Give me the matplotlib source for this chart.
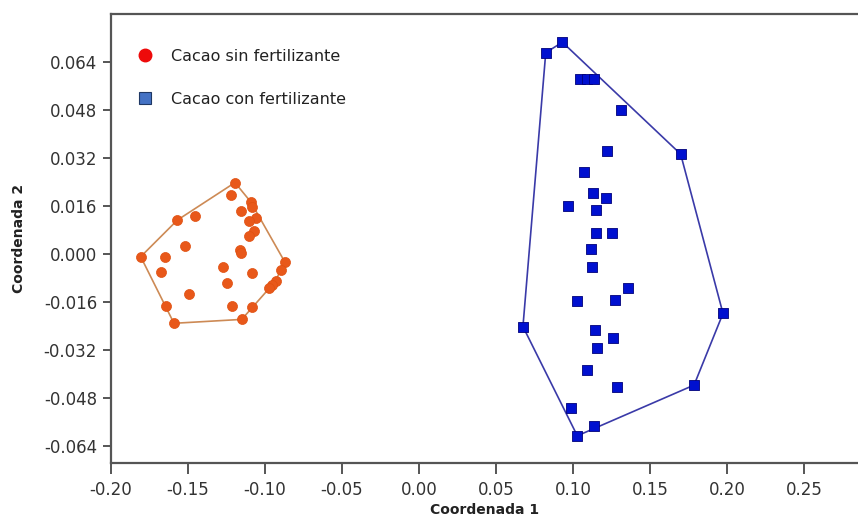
import numpy as np
import matplotlib
matplotlib.use('Agg')
import matplotlib.pyplot as plt
from matplotlib.lines import Line2D

plt.rcParams['axes.unicode_minus'] = False

# Cacao sin fertilizante (coordenada 1, coordenada 2)
sin_x = [-0.1195, -0.1219, -0.1093, -0.1082, -0.1154, -0.1455, -0.1569, -0.1060,
         -0.1104, -0.1071, -0.1104, -0.1521, -0.1164, -0.1158, -0.1807, -0.1649,
         -0.0872, -0.0898, -0.1273, -0.1677, -0.1082, -0.0931, -0.0953, -0.0974,
         -0.1245, -0.1494, -0.1641, -0.1212, -0.1082, -0.1591, -0.1151]
sin_y = [0.0238, 0.0197, 0.0174, 0.0158, 0.0143, 0.0127, 0.0113, 0.0119,
         0.0110, 0.0078, 0.0060, 0.0027, 0.0013, 0.0002, -0.0009, -0.0011,
         -0.0026, -0.0053, -0.0044, -0.0061, -0.0064, -0.0089, -0.0103, -0.0114,
         -0.0096, -0.0134, -0.0173, -0.0173, -0.0176, -0.0231, -0.0218]

# Cacao con fertilizante
con_x = [0.0931, 0.0823, 0.1045, 0.1093, 0.1136, 0.1314, 0.1699, 0.1219,
         0.1071, 0.1132, 0.1212, 0.0970, 0.1147, 0.1147, 0.1255, 0.1115,
         0.1121, 0.1359, 0.1028, 0.1273, 0.1974, 0.0675, 0.1141, 0.1262,
         0.1158, 0.1093, 0.1786, 0.1288, 0.0989, 0.1136, 0.1028]
con_y = [0.0706, 0.0671, 0.0582, 0.0583, 0.0583, 0.0480, 0.0333, 0.0342,
         0.0272, 0.0202, 0.0186, 0.0160, 0.0147, 0.0071, 0.0069, 0.0016,
         -0.0042, -0.0112, -0.0156, -0.0153, -0.0198, -0.0242, -0.0253, -0.0279,
         -0.0314, -0.0387, -0.0437, -0.0442, -0.0514, -0.0572, -0.0606]

xticks = [-0.20, -0.15, -0.10, -0.05, 0.00, 0.05, 0.10, 0.15, 0.20, 0.25]
yticks = [-0.064, -0.048, -0.032, -0.016, 0.000, 0.016, 0.032, 0.048, 0.064]


def convex_hull(xs, ys):
    # monotone chain, returns closed polygon
    pts = sorted(set(zip(xs, ys)))

    def cross(o, a, b):
        return (a[0] - o[0]) * (b[1] - o[1]) - (a[1] - o[1]) * (b[0] - o[0])

    lower = []
    for p in pts:
        while len(lower) >= 2 and cross(lower[-2], lower[-1], p) <= 0:
            lower.pop()
        lower.append(p)
    upper = []
    for p in reversed(pts):
        while len(upper) >= 2 and cross(upper[-2], upper[-1], p) <= 0:
            upper.pop()
        upper.append(p)
    hull = lower[:-1] + upper[:-1]
    hull.append(hull[0])
    return np.array(hull)


fig = plt.figure(figsize=(8.58, 5.19), dpi=100)
ax = fig.add_axes([111 / 858, 56 / 519, (858 - 111) / 858, (463 - 14) / 519])

# hulls
h1 = convex_hull(sin_x, sin_y)
ax.plot(h1[:, 0], h1[:, 1], color='#CD8A55', lw=1.2, zorder=2)
h2 = convex_hull(con_x, con_y)
ax.plot(h2[:, 0], h2[:, 1], color='#3A3AA8', lw=1.2, zorder=2)

# points
ax.scatter(sin_x, sin_y, s=52, marker='o', color='#E8581A', edgecolors='#E05010',
           linewidths=0.5, zorder=3)
ax.scatter(con_x, con_y, s=56, marker='s', color='#0010D0', edgecolors='#00007A',
           linewidths=0.6, zorder=3)

ax.set_xlim(-0.2, -0.2 + (858 - 111) / 1540)
ax.set_ylim((254 - 463) / 3000, (254 - 14) / 3000)
ax.set_xticks(xticks)
ax.set_xticklabels([f'{v:.2f}' for v in xticks])
ax.set_yticks(yticks)
ax.set_yticklabels([f'{v:.3f}' for v in yticks])

for s in ['left', 'bottom', 'top']:
    ax.spines[s].set_color('#555555')
    ax.spines[s].set_linewidth(1.6)
ax.spines['right'].set_visible(False)
ax.tick_params(direction='out', length=6, width=1.4, color='#555555',
               labelsize=12, labelcolor='#333333')
ax.tick_params(axis='x', length=8, pad=5)
ax.tick_params(axis='y', pad=4)

ax.set_xlabel('Coordenada 1', fontsize=10, fontweight='bold', color='#222222', labelpad=3)
ax.set_ylabel('Coordenada 2', fontsize=10, fontweight='bold', color='#222222', labelpad=13)

handles = [
    Line2D([], [], ls='none', marker='o', markersize=9, color='#EE0A0A',
           markeredgecolor='#EE0A0A'),
    Line2D([], [], ls='none', marker='s', markersize=8, color='#4472C4',
           markeredgecolor='#1F3864', markeredgewidth=0.8),
]
ax.legend(handles, ['Cacao sin fertilizante', 'Cacao con fertilizante'],
          loc='upper left', bbox_to_anchor=(0.005, 0.955), frameon=False,
          fontsize=11.5, labelspacing=1.75, handletextpad=0.6, labelcolor='#222222')

fig.savefig('out.png', dpi=100)
